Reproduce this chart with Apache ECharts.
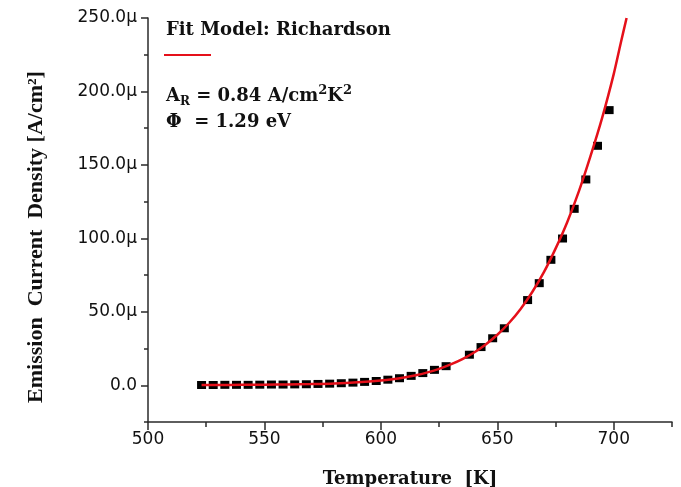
<!DOCTYPE html>
<html><head><meta charset="utf-8">
<script src="https://cdn.jsdelivr.net/npm/echarts@6/dist/echarts.min.js"></script>
<style>html,body{margin:0;padding:0;background:#fff}#c{width:681px;height:487px}</style>
</head><body><div id="c"></div>
<script>
// Measured data (temperature in K, emission current density in µA/cm²)
const temps = [523,528,533,538,543,548,553,558,563,568,573,578,583,588,593,598,603,608,613,618,623,628,638,643,648,653,663,668,673,678,683,688,693,698];
const density = [0.2,0.2,0.3,0.3,0.3,0.4,0.5,0.5,0.6,0.7,0.9,1.1,1.4,1.8,2.3,2.9,3.8,4.8,6.4,8.3,10.5,13.0,20.8,26.0,32.0,38.8,58.0,69.5,85.4,99.9,120.1,140.1,163.0,187.3];
// Richardson fit curve
const fitTemps = [523,530,540,550,560,570,580,590,600,605,610,615,620,625,630,635,640,645,650,655,660,665,670,675,680,685,690,695,700,703,705.5];
const fitDensity = [0.15,0.2,0.3,0.4,0.55,0.8,1.2,2.0,3.2,4.1,5.3,6.8,8.8,11.2,14.2,17.8,22.3,27.8,34.4,42.4,52,63.5,77,93,111,132,156,182,212,233,250];
// Axis ticks
const xTickLabels = [500,550,600,650,700];
const xMinorTicks = [525,575,625,675,725];
const yTickLabels = [0,50,100,150,200,250];
const yMinorTicks = [-25,25,75,125,175,225];

const axisCol = '#2a2a2a';
const chart = echarts.init(document.getElementById('c'), null, {renderer:'canvas'});
const serif = '"Liberation Serif","Times New Roman",serif';
const wideSerif = '"DejaVu Serif",serif';
chart.setOption({
  animation:false,
  backgroundColor:'#fff',
  grid:{left:148,right:9,top:18,bottom:65,containLabel:false,outerBoundsMode:'none'},
  xAxis:[{
    type:'value',min:500,max:725,position:'bottom',
    axisLine:{show:true,onZero:false,lineStyle:{color:axisCol,width:1.5}},
    axisTick:{show:true,customValues:xTickLabels,length:8,lineStyle:{color:axisCol,width:1.5}},
    axisLabel:{customValues:xTickLabels,fontFamily:'DejaVu Sans',fontSize:17,color:'#111',margin:9},
    splitLine:{show:false}
  },{
    type:'value',min:500,max:725,position:'bottom',
    axisLine:{show:false,onZero:false},
    axisTick:{show:true,customValues:xMinorTicks,length:5,lineStyle:{color:axisCol,width:1.5}},
    axisLabel:{show:false},splitLine:{show:false}
  }],
  yAxis:[{
    type:'value',min:-25,max:250,position:'left',
    axisLine:{show:true,onZero:false,lineStyle:{color:axisCol,width:1.5}},
    axisTick:{show:true,customValues:yTickLabels,length:7,lineStyle:{color:axisCol,width:1.5}},
    axisLabel:{customValues:yTickLabels,fontFamily:'DejaVu Sans',fontSize:17,color:'#111',margin:11,
      formatter:v=> v===0 ? '0.0' : v.toFixed(1)+'μ'},
    splitLine:{show:false}
  },{
    type:'value',min:-25,max:250,position:'left',
    axisLine:{show:false,onZero:false},
    axisTick:{show:true,customValues:yMinorTicks,length:4,lineStyle:{color:axisCol,width:1.5}},
    axisLabel:{show:false},splitLine:{show:false}
  }],
  series:[{
    type:'scatter',xAxisIndex:0,yAxisIndex:0,
    data:temps.map((t,i)=>[t,density[i]]),
    symbol:'rect',symbolSize:[9,8],
    itemStyle:{color:'#000',opacity:1},z:2
  },{
    type:'line',xAxisIndex:0,yAxisIndex:0,
    data:fitTemps.map((t,i)=>[t,fitDensity[i]]),
    smooth:0.3,showSymbol:false,symbol:'none',
    lineStyle:{color:'#e5101a',width:2.5},z:3
  }],
  graphic:[
    {type:'text',x:166,y:30,style:{text:'Fit Model: Richardson',font:'bold 18px '+wideSerif,fill:'#111',textAlign:'left',textVerticalAlign:'middle'}},
    {type:'line',shape:{x1:164,y1:55,x2:211,y2:55},style:{stroke:'#e5101a',lineWidth:2}},
    {type:'text',x:166,y:84,style:{text:'{a|A}{s|R}{a| = 0.84 A/cm}{p|2}{a|K}{p|2}',textAlign:'left',textVerticalAlign:'top',fill:'#111',
      rich:{a:{font:'bold 18px '+wideSerif,lineHeight:24,fill:'#111'},
            s:{font:'bold 12px '+wideSerif,lineHeight:10,verticalAlign:'bottom',fill:'#111'},
            p:{font:'bold 13px '+wideSerif,lineHeight:14,verticalAlign:'top',fill:'#111'}}}},
    {type:'text',x:166,y:122,style:{text:'Φ  = 1.29 eV',font:'bold 18px '+wideSerif,fill:'#111',textAlign:'left',textVerticalAlign:'middle'}},
    {type:'text',x:36,y:237,rotation:Math.PI/2,style:{text:'Emission  Current  Density [A/cm²]',font:'bold 22px '+serif,fill:'#111',textAlign:'center',textVerticalAlign:'middle'}},
    {type:'text',x:410,y:470,style:{text:'Temperature  [K]',font:'bold 18px '+wideSerif,fill:'#111',textAlign:'center',textVerticalAlign:'top'}}
  ]
});
</script></body></html>
